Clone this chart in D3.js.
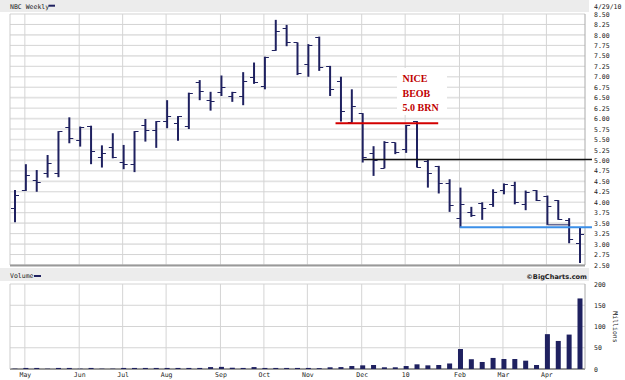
<!DOCTYPE html>
<html>
<head>
<meta charset="utf-8">
<script src="https://cdn.jsdelivr.net/npm/d3@7"></script>
<style>
  body { margin: 0; background: #fff; }
  svg { display: block; }
  .lbl { font-family: "DejaVu Sans Mono", monospace; font-size: 6.5px; fill: #222; }
</style>
</head>
<body>
<div id="chart"></div>
<script>
var svgWidth = 625;
var svgHeight = 380;

// weekly OHLC, NBC, May 2009 - Apr 2010
var opens = [3.86, 4.29, 4.52, 4.69, 4.69, 5.79, 5.50, 5.83, 5.09, 5.33, 4.97, 4.91, 5.85, 5.73, 5.94, 5.90, 5.82,
  6.88, 6.44, 6.64, 6.54, 6.55, 7.00, 6.79, 7.64, 8.16, 7.82, 7.30, 7.96, 7.25, 6.90, 5.93, 6.13, 5.18, 4.83,
  5.43, 5.27, 5.94, 4.99, 4.86, 4.45, 3.62, 3.77, 3.99, 3.95, 4.29, 4.41, 3.97, 4.29, 4.16, 4.05, 3.57, 3.02];
var highs = [4.29, 4.91, 4.77, 5.13, 5.70, 6.03, 5.81, 5.83, 5.36, 5.65, 5.37, 5.70, 5.99, 5.94, 6.44, 6.06, 6.62,
  6.92, 6.64, 7.03, 6.64, 7.11, 7.34, 7.48, 8.36, 8.24, 7.82, 7.78, 7.96, 7.26, 7.00, 6.70, 6.13, 5.34, 5.46,
  5.43, 5.85, 5.94, 5.01, 4.87, 4.55, 4.35, 3.89, 4.00, 4.31, 4.45, 4.49, 4.28, 4.29, 4.16, 4.05, 3.62, 3.41];
var lows = [3.52, 4.27, 4.25, 4.59, 4.60, 5.41, 5.33, 4.91, 4.83, 5.05, 4.79, 4.72, 5.45, 5.30, 5.77, 5.47, 5.75,
  6.44, 6.19, 6.54, 6.40, 6.32, 6.83, 6.70, 7.62, 7.73, 7.04, 7.00, 7.14, 6.54, 5.93, 5.90, 4.95, 4.63, 4.81,
  5.15, 5.18, 4.83, 4.35, 4.21, 3.77, 3.39, 3.65, 3.58, 3.89, 4.19, 3.95, 3.81, 4.03, 3.46, 3.58, 3.02, 2.55];
var closes = [4.17, 4.65, 4.48, 4.93, 5.70, 5.53, 5.81, 5.23, 5.17, 5.08, 4.91, 5.70, 5.73, 5.94, 6.05, 6.06, 6.62,
  6.66, 6.42, 6.75, 6.64, 6.90, 6.88, 7.48, 8.10, 7.82, 7.10, 7.76, 7.24, 6.71, 6.18, 6.31, 5.07, 5.02, 5.43,
  5.19, 5.85, 4.85, 4.69, 4.45, 3.93, 3.95, 3.69, 3.86, 4.25, 4.43, 4.01, 4.25, 4.05, 3.92, 3.59, 3.11, 3.23];
// volume, millions
var volumes = [0.8, 2.5, 2.5, 0.8, 2.5, 2.5, 0.8, 2.5, 0.8, 0.8, 2.5, 2.5, 2.5, 2.5, 2.5, 2.5, 2.5,
  2.5, 4.5, 5, 3, 2.5, 4.5, 2.5, 2.5, 2.5, 2.5, 2.5, 2, 4, 4.5, 7, 8.6, 9.4, 4,
  4, 7, 11, 8.6, 9.4, 13, 47, 23, 16.5, 26, 23.5, 23.5, 19.6, 9.4, 82, 66, 81, 166];

var monthIdx = [1, 6, 10, 14, 19, 23, 27, 32, 36, 41, 45, 49];
var monthLabels = ["May", "Jun", "Jul", "Aug", "Sep", "Oct", "Nov", "Dec", "10", "Feb", "Mar", "Apr"];
var priceTicks = [2.50, 2.75, 3.00, 3.25, 3.50, 3.75, 4.00, 4.25, 4.50, 4.75, 5.00, 5.25, 5.50, 5.75,
  6.00, 6.25, 6.50, 6.75, 7.00, 7.25, 7.50, 7.75, 8.00, 8.25, 8.50];
var volTicks = [0, 50, 100, 150, 200];

// hand-drawn marks: [from index, to index, price]
var redLine = [29.5, 38.95, 5.89];
var blackLine = [32.05, 53.1, 5.02];
var blueLine = [40.95, 53.1, 3.40];
var darkLine = [49, 51.1, 3.46];
var noteLines = ["NICE", "BEOB", "5.0 BRN"];

var navy = "#1f2160";
var gridCol = "#d4d4d4";

var svg = d3.select("#chart")
  .append("svg")
  .attr("width", svgWidth)
  .attr("height", svgHeight);

var plotL = 10, plotR = 585;
var x = d3.scaleLinear().domain([0, 52]).range([15, 580]);
var y = d3.scaleLinear().domain([2.5, 8.5]).range([265, 14]);
var yv = d3.scaleLinear().domain([0, 200]).range([369, 284]);

// header bands
svg.append("rect").attr("x", 0).attr("y", 0).attr("width", 589).attr("height", 12).attr("fill", "#ececec");
svg.append("rect").attr("x", 0).attr("y", 268).attr("width", 589).attr("height", 13).attr("fill", "#ececec");

svg.append("text").attr("class", "lbl").attr("x", 10).attr("y", 8.5).text("NBC Weekly");
svg.append("line").attr("x1", 48.5).attr("x2", 55).attr("y1", 5.7).attr("y2", 5.7)
  .attr("stroke", navy).attr("stroke-width", 2);
svg.append("text").attr("class", "lbl").attr("x", 594).attr("y", 8.5).text("4/29/10");

svg.append("text").attr("class", "lbl").attr("x", 10).attr("y", 278).text("Volume");
svg.append("line").attr("x1", 34).attr("x2", 41).attr("y1", 276).attr("y2", 276)
  .attr("stroke", navy).attr("stroke-width", 2);
svg.append("text").attr("x", 587).attr("y", 278.5).attr("text-anchor", "end")
  .style("font-family", "DejaVu Sans").style("font-size", "6.6px").style("font-weight", "bold")
  .attr("fill", "#222").text("\u00a9BigCharts.com");

// price grid
var gp = svg.append("g");
gp.selectAll("line.h").data(priceTicks).enter().append("line")
  .attr("x1", plotL).attr("x2", plotR)
  .attr("y1", d => y(d)).attr("y2", d => y(d))
  .attr("stroke", d => (d * 2) % 1 === 0 ? "#e2e2e2" : gridCol)
  .attr("stroke-width", d => (d * 2) % 1 === 0 ? 1.6 : 1);
gp.selectAll("line.v").data(monthIdx).enter().append("line")
  .attr("x1", d => x(d) - 1).attr("x2", d => x(d) - 1)
  .attr("y1", y(8.5)).attr("y2", y(2.5))
  .attr("stroke", gridCol);
gp.append("line").attr("x1", plotL).attr("x2", plotL).attr("y1", 14).attr("y2", 265).attr("stroke", "#ccc");
gp.append("line").attr("x1", plotR).attr("x2", plotR).attr("y1", 14).attr("y2", 265).attr("stroke", "#aaa");
gp.append("line").attr("x1", plotL).attr("x2", plotR).attr("y1", 265.5).attr("y2", 265.5)
  .attr("stroke", "#999").attr("stroke-width", 2);

// volume grid
var gv = svg.append("g");
gv.selectAll("line").data(volTicks).enter().append("line")
  .attr("x1", plotL).attr("x2", plotR)
  .attr("y1", d => yv(d)).attr("y2", d => yv(d))
  .attr("stroke", d => d === 0 ? "#999" : gridCol)
  .attr("stroke-width", d => d === 0 ? 2 : 1);
gv.selectAll("line.v").data(monthIdx).enter().append("line")
  .attr("x1", d => x(d) - 1).attr("x2", d => x(d) - 1)
  .attr("y1", yv(200)).attr("y2", yv(0))
  .attr("stroke", gridCol);
gv.append("line").attr("x1", plotL).attr("x2", plotL).attr("y1", 284).attr("y2", 369).attr("stroke", "#ccc");
gv.append("line").attr("x1", plotR).attr("x2", plotR).attr("y1", 284).attr("y2", 369).attr("stroke", "#aaa");

// axes
var priceAxis = d3.axisRight(y).tickValues(priceTicks).tickFormat(d3.format(".2f")).tickSize(0).tickPadding(9);
var ga = svg.append("g").attr("transform", `translate(${plotR},0)`).call(priceAxis);
var volAxis = d3.axisRight(yv).tickValues(volTicks).tickSize(0).tickPadding(9);
var gva = svg.append("g").attr("transform", `translate(${plotR},0)`).call(volAxis);
var monthAxis = d3.axisBottom(x).tickValues(monthIdx).tickFormat((d, i) => monthLabels[i]).tickSize(0).tickPadding(3);
var gma = svg.append("g").attr("transform", `translate(-1,${yv(0)})`).call(monthAxis);
[ga, gva, gma].forEach(function(g) {
  g.select(".domain").remove();
  g.selectAll("text").attr("class", "lbl").attr("fill", null);
});

svg.append("text").attr("class", "lbl")
  .attr("transform", "translate(613,327) rotate(90)")
  .attr("text-anchor", "middle").text("Millions");

// volume bars
svg.append("g").selectAll("rect").data(volumes).enter().append("rect")
  .attr("x", (d, i) => x(i) - 2.5)
  .attr("width", 5)
  .attr("y", d => yv(d))
  .attr("height", d => yv(0) - yv(d))
  .attr("fill", navy);

// annotation box
svg.append("rect").attr("x", 397).attr("y", 68).attr("width", 50).attr("height", 47).attr("fill", "#fff");

// price bars
var bars = svg.append("g").selectAll("g").data(highs).enter().append("g");
bars.append("line")
  .attr("x1", (d, i) => x(i)).attr("x2", (d, i) => x(i))
  .attr("y1", (d, i) => y(highs[i])).attr("y2", (d, i) => y(lows[i]))
  .attr("stroke", navy).attr("stroke-width", 2);
bars.append("line")
  .attr("x1", (d, i) => x(i) - 4).attr("x2", (d, i) => x(i))
  .attr("y1", (d, i) => Math.round(y(opens[i])) + 0.5).attr("y2", (d, i) => Math.round(y(opens[i])) + 0.5)
  .attr("stroke", navy).attr("stroke-width", 1);
bars.append("line")
  .attr("x1", (d, i) => x(i)).attr("x2", (d, i) => x(i) + 4)
  .attr("y1", (d, i) => Math.round(y(closes[i])) + 0.5).attr("y2", (d, i) => Math.round(y(closes[i])) + 0.5)
  .attr("stroke", navy).attr("stroke-width", 1);

// hand drawn lines
function hline(l, col, w) {
  svg.append("line")
    .attr("x1", x(l[0])).attr("x2", x(l[1]))
    .attr("y1", y(l[2])).attr("y2", y(l[2]))
    .attr("stroke", col).attr("stroke-width", w);
}
hline(blackLine, "#111", 1.5);
hline(darkLine, navy, 1);
hline(blueLine, "#3b8fe8", 2);
hline(redLine, "#d30000", 2);

svg.append("g").selectAll("text").data(noteLines).enter().append("text")
  .attr("x", 402.5)
  .attr("y", (d, i) => 82 + i * 14.6)
  .style("font-family", "Liberation Serif").style("font-size", "10px").style("font-weight", "bold")
  .attr("fill", "#c00000")
  .text(d => d);
</script>
</body>
</html>
